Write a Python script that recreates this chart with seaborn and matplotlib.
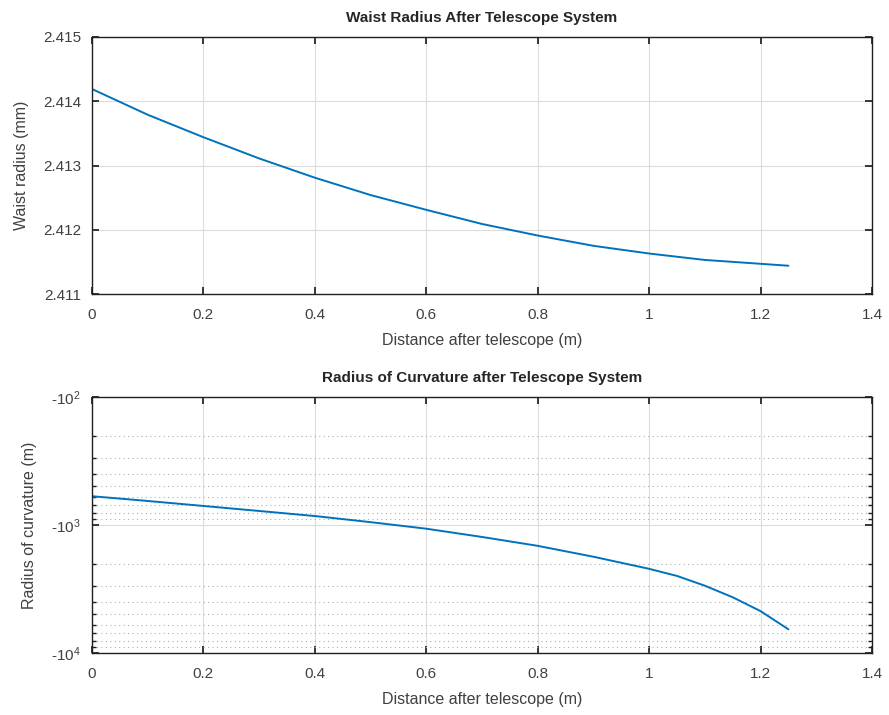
import numpy as np
import pandas as pd
import matplotlib
matplotlib.use("Agg")
import matplotlib.pyplot as plt
import matplotlib.ticker as mticker
import seaborn as sns

# Valores
distancia = [0.0, 0.1, 0.2, 0.3, 0.4, 0.5, 0.6, 0.7, 0.8, 0.9, 1.0, 1.05, 1.1, 1.15, 1.2, 1.25]
raio_cintura = [2.41419, 2.41379, 2.41344, 2.41311, 2.41281, 2.41254, 2.41231, 2.41209,
                2.41191, 2.41175, 2.41163, 2.41158, 2.41153, 2.41150, 2.41147, 2.41144]
raio_curvatura = [-596, -649, -710, -777, -851, -950, -1069, -1240,
                  -1455, -1770, -2200, -2500, -2980, -3670, -4710, -6530]

sns.set_theme(style="ticks")
plt.rcParams["font.family"] = ["Liberation Sans", "DejaVu Sans"]
plt.rcParams["mathtext.default"] = "regular"

cor_linha = "#0072BD"
cor_texto = "#404040"
cor_grelha = "#dcdcdc"

df = pd.DataFrame({"DIST": distancia, "W": raio_cintura, "R": np.abs(raio_curvatura)})

fig = plt.figure(figsize=(8.89, 7.15), dpi=100)
ax1 = fig.add_axes([92 / 889, 1 - 294 / 715, 780 / 889, 257 / 715])
ax2 = fig.add_axes([92 / 889, 1 - 653 / 715, 780 / 889, 256 / 715])

# Gráfico do raio da cintura
sns.lineplot(data=df, x="DIST", y="W", ax=ax1, color=cor_linha, linewidth=1.4)
ax1.set_xlim(0, 1.4)
ax1.set_ylim(2.411, 2.415)
ax1.set_yticks([2.411, 2.412, 2.413, 2.414, 2.415])
ax1.yaxis.set_major_formatter(mticker.FormatStrFormatter("%.3f"))
ax1.set_title("Waist Radius After Telescope System", fontsize=11, fontweight="bold", pad=11)
ax1.set_ylabel("Waist radius (mm)", fontsize=11.5, color=cor_texto, labelpad=10)

# Gráfico do raio de curvatura (valores negativos em escala log)
sns.lineplot(data=df, x="DIST", y="R", ax=ax2, color=cor_linha, linewidth=1.4)
ax2.set_yscale("log")
ax2.set_xlim(0, 1.4)
ax2.set_ylim(1e4, 1e2)
ax2.set_yticks([1e2, 1e3, 1e4])
ax2.set_yticklabels(["-10$^2$", "-10$^3$", "-10$^4$"])
ax2.yaxis.set_minor_locator(mticker.LogLocator(base=10, subs=np.arange(2, 10)))
ax2.yaxis.set_minor_formatter(mticker.NullFormatter())
ax2.grid(True, which="minor", axis="y", linestyle=(0, (1, 3)), color="#b0b0b0", linewidth=0.8)
ax2.set_title("Radius of Curvature after Telescope System", fontsize=11, fontweight="bold", pad=11)
ax2.set_ylabel("Radius of curvature (m)", fontsize=11.5, color=cor_texto, labelpad=10)

for ax in (ax1, ax2):
    ax.set_xticks([0, 0.2, 0.4, 0.6, 0.8, 1.0, 1.2, 1.4])
    ax.set_xticklabels(["0", "0.2", "0.4", "0.6", "0.8", "1", "1.2", "1.4"])
    ax.set_xlabel("Distance after telescope (m)", fontsize=11.5, color=cor_texto, labelpad=8)
    ax.grid(True, which="major", color=cor_grelha, linewidth=0.8)
    ax.tick_params(which="both", direction="in", top=True, right=True,
                   labelsize=11, colors="#202020", labelcolor=cor_texto)
    ax.tick_params(which="major", length=5)
    ax.tick_params(which="minor", length=3)
    ax.tick_params(axis="x", pad=10)
    ax.tick_params(axis="y", pad=8)
    for s in ax.spines.values():
        s.set_visible(True)
        s.set_color("#202020")
        s.set_linewidth(1.0)
    ax.set_axisbelow(True)

fig.savefig("out.png", dpi=100, facecolor="white")
